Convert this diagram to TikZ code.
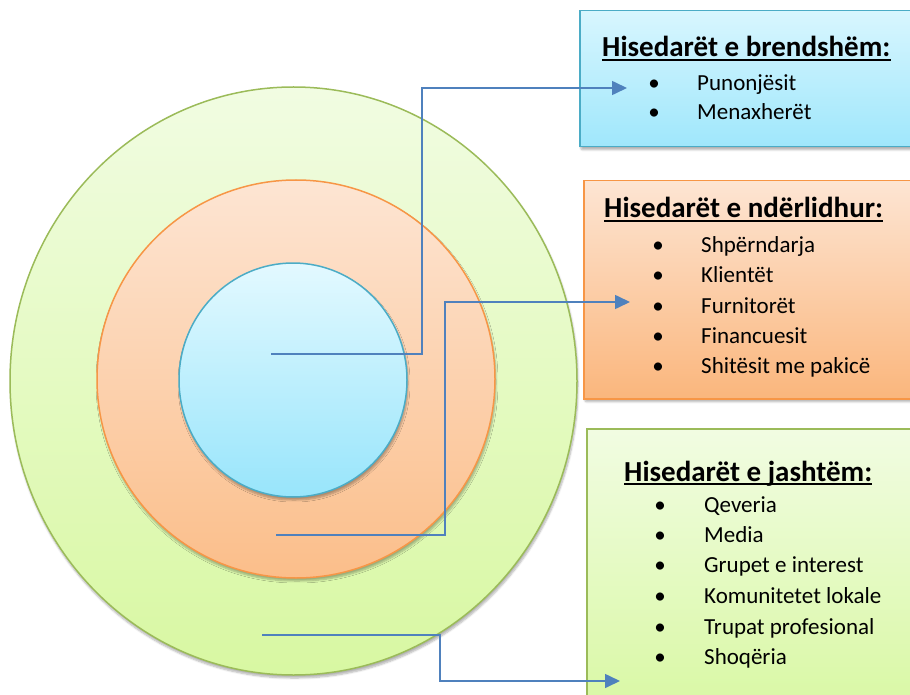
\documentclass[tikz,border=0pt]{standalone}
\usepackage{fontspec}
\setmainfont{Carlito}
\usetikzlibrary{arrows.meta,shapes.geometric,shadows.blur}
\definecolor{grnB}{HTML}{9BBB59}
\definecolor{grnT}{HTML}{F1FCE2}
\definecolor{grnM}{HTML}{D8F8A2}
\definecolor{orgB}{HTML}{F79646}
\definecolor{orgT}{HTML}{FDE5D3}
\definecolor{orgM}{HTML}{FBBE8A}
\definecolor{bluB}{HTML}{4BACC6}
\definecolor{bluT}{HTML}{E3F9FF}
\definecolor{bluM}{HTML}{98E5FB}
\definecolor{connC}{HTML}{4F81BD}
\tikzset{
  shad/.style={blur shadow={shadow xshift=1pt,shadow yshift=-3pt,shadow opacity=30,shadow blur steps=6,shadow blur extra rounding=2pt}},
  ring/.style={ellipse,draw,line width=1.5pt,inner sep=0pt,shad},
  panel/.style={rectangle,draw,line width=1.5pt,inner sep=0pt,anchor=north west,shad},
  ttl/.style={anchor=base west,inner sep=0pt,font=\fontsize{29}{35}\selectfont\bfseries},
  itm/.style={anchor=base west,inner sep=0pt,font=\fontsize{23}{28}\selectfont},
  bul/.style={anchor=base,inner sep=0pt,font=\fontsize{23}{28}\selectfont},
  conn/.style={draw=connC,line width=1.6pt,-{Triangle[length=15pt,width=14pt]}},
  uline/.style={line width=1.6pt}
}
\begin{document}
\begin{tikzpicture}[x=1pt,y=-1pt]
\useasboundingbox (0,0) rectangle (910,695);
% circles
\node[ring,draw=grnB,top color=grnT,bottom color=grnM,minimum width=567pt,minimum height=588pt] (outer) at (293.5,381) {};
\node[ring,draw=orgB,top color=orgT,bottom color=orgM,minimum width=398pt,minimum height=398pt] (middle) at (296,379) {};
\node[ring,draw=bluB,top color=bluT,bottom color=bluM,minimum width=228pt,minimum height=234pt] (inner) at (293,380) {};
% panels
\node[panel,draw=bluB,top color=bluT!85!bluM,bottom color=bluM!90!bluT,minimum width=345pt,minimum height=136pt] (pin) at (579,10) {};
\node[panel,draw=orgB,top color=orgT,bottom color=orgM!80!orgB,minimum width=340pt,minimum height=218pt] (pmid) at (583,180) {};
\node[panel,draw=grnB,top color=grnT,bottom color=grnM,minimum width=340pt,minimum height=290pt] (pout) at (586,428) {};
% panel 1 text
\node[ttl] (t1) at (602,57) {Hisedarët e brendshëm:};
\draw[uline] ([yshift=-3pt]t1.base west) -- ([yshift=-3pt]t1.base east);
\node[bul] (b11) at (654,91) {\textbullet};
\node[itm] (i11) at (697,91) {Punonjësit};
\node[bul] (b12) at (654,120) {\textbullet};
\node[itm] (i12) at (697,120) {Menaxherët};
% panel 2 text
\node[ttl] (t2) at (604,218) {Hisedarët e ndërlidhur:};
\draw[uline] ([yshift=-3pt]t2.base west) -- ([yshift=-3pt]t2.base east);
\node[bul] (b21) at (658,252) {\textbullet};
\node[itm] (i21) at (701,252) {Shpërndarja};
\node[bul] (b22) at (658,282) {\textbullet};
\node[itm] (i22) at (701,282) {Klientët};
\node[bul] (b23) at (658,313) {\textbullet};
\node[itm] (i23) at (701,313) {Furnitorët};
\node[bul] (b24) at (658,343) {\textbullet};
\node[itm] (i24) at (701,343) {Financuesit};
\node[bul] (b25) at (658,373) {\textbullet};
\node[itm] (i25) at (701,373) {Shitësit me pakicë};
% panel 3 text
\node[ttl] (t3) at (624,481) {Hisedarët e jashtëm:};
\draw[uline] ([yshift=-3pt]t3.base west) -- ([yshift=-3pt]t3.base east);
\node[bul] (b31) at (660,512) {\textbullet};
\node[itm] (i31) at (704,512) {Qeveria};
\node[bul] (b32) at (660,542) {\textbullet};
\node[itm] (i32) at (704,542) {Media};
\node[bul] (b33) at (660,572) {\textbullet};
\node[itm] (i33) at (704,572) {Grupet e interest};
\node[bul] (b34) at (660,603) {\textbullet};
\node[itm] (i34) at (704,603) {Komunitetet lokale};
\node[bul] (b35) at (660,634) {\textbullet};
\node[itm] (i35) at (704,634) {Trupat profesional};
\node[bul] (b36) at (660,664) {\textbullet};
\node[itm] (i36) at (704,664) {Shoqëria};
% connectors
\coordinate (s1) at (271,354);
\coordinate (e1) at (627,88);
\coordinate (s2) at (276,535);
\coordinate (e2) at (630,302);
\coordinate (s3) at (262,635);
\coordinate (e3) at (620,681);
\draw[conn] (s1) -- ++(151,0) |- (e1);
\draw[conn] (s2) -- ++(169,0) |- (e2);
\draw[conn] (s3) -- ++(178,0) |- (e3);
\end{tikzpicture}
\end{document}
